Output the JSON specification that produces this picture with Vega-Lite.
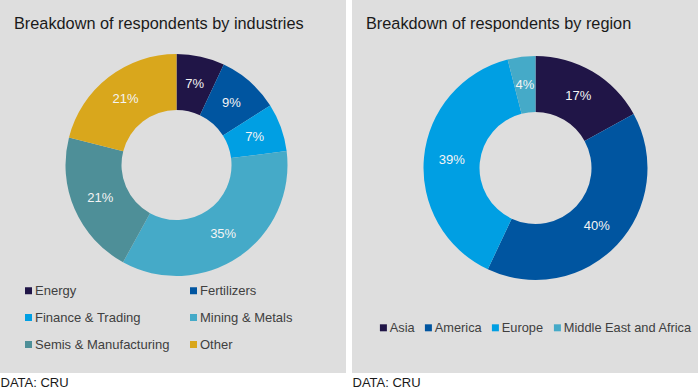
{
  "$schema": "https://vega.github.io/schema/vega-lite/v6.json",
  "padding": 0,
  "spacing": 6,
  "background": "white",
  "resolve": {"scale": {"color": "independent"}, "legend": {"color": "independent"}},
  "config": {
    "view": {"fill": "#dedede", "stroke": null},
    "font": "Liberation Sans",
    "title": {"fontSize": 16.3, "fontWeight": "normal", "color": "#1a1a1a", "anchor": "start", "frame": "group"},
    "legend": {"labelFontSize": 13, "labelColor": "#404040", "symbolType": "square", "symbolSize": 49, "symbolStrokeWidth": 0, "labelLimit": 300, "padding": 0, "labelOffset": 0}
  },
  "hconcat": [
    {
      "width": 346,
      "height": 373,
      "title": {"text": "Breakdown of respondents by industries", "offset": -32, "dx": 14},
      "data": {"values": [
        {"industry": "Energy", "share": 0.07},
        {"industry": "Fertilizers", "share": 0.09},
        {"industry": "Finance & Trading", "share": 0.07},
        {"industry": "Mining & Metals", "share": 0.35},
        {"industry": "Semis & Manufacturing", "share": 0.21},
        {"industry": "Other", "share": 0.21}
      ]},
      "transform": [{"window": [{"op": "row_number", "as": "k"}]}],
      "encoding": {
        "theta": {"field": "share", "type": "quantitative", "stack": true},
        "order": {"field": "k", "type": "quantitative"},
        "color": {
          "field": "industry", "type": "nominal",
          "sort": ["Energy", "Fertilizers", "Finance & Trading", "Mining & Metals", "Semis & Manufacturing", "Other"],
          "scale": {"domain": ["Energy", "Fertilizers", "Finance & Trading", "Mining & Metals", "Semis & Manufacturing", "Other"],
                    "range": ["#201547", "#0055a0", "#009fe3", "#45aac8", "#4e8f98", "#d9a71c"]},
          "legend": {"title": null, "orient": "none", "legendX": 22, "legendY": 284, "columns": 2, "columnPadding": 17, "rowPadding": 13,
                     "values": ["Energy", "Finance & Trading", "Semis & Manufacturing", "Fertilizers", "Mining & Metals", "Other"]}
        }
      },
      "layer": [
        {"mark": {"type": "arc", "innerRadius": 55, "outerRadius": 111, "xOffset": 3.5, "yOffset": -21.5}},
        {"mark": {"type": "text", "radius": 83, "xOffset": 3.5, "yOffset": -21.5, "fontSize": 13},
         "encoding": {"text": {"field": "share", "type": "quantitative", "format": ".0%"}, "color": {"value": "#f4f4f4"}}},
        {"mark": {"type": "rule", "opacity": 0},
         "encoding": {"x": {"datum": 0, "type": "quantitative",
           "axis": {"title": "DATA: CRU", "labels": false, "ticks": false, "domain": false, "grid": false,
                    "titleAnchor": "start", "titleFontSize": 13, "titleFontWeight": "normal", "titleColor": "#1a1a1a", "titlePadding": 3}}}}
      ]
    },
    {
      "width": 346,
      "height": 373,
      "title": {"text": "Breakdown of respondents by region", "offset": -32, "dx": 14},
      "data": {"values": [
        {"region": "Asia", "share": 0.17},
        {"region": "America", "share": 0.40},
        {"region": "Europe", "share": 0.39},
        {"region": "Middle East and Africa", "share": 0.04}
      ]},
      "transform": [{"window": [{"op": "row_number", "as": "k"}]}],
      "encoding": {
        "theta": {"field": "share", "type": "quantitative", "stack": true},
        "order": {"field": "k", "type": "quantitative"},
        "color": {
          "field": "region", "type": "nominal",
          "sort": ["Asia", "America", "Europe", "Middle East and Africa"],
          "scale": {"domain": ["Asia", "America", "Europe", "Middle East and Africa"],
                    "range": ["#201547", "#0055a0", "#009fe3", "#45aac8"]},
          "legend": {"title": null, "orient": "none", "direction": "horizontal", "legendX": 25, "legendY": 321, "columnPadding": 7, "labelFontSize": 12.8}
        }
      },
      "layer": [
        {"mark": {"type": "arc", "innerRadius": 56, "outerRadius": 112, "xOffset": 10.5, "yOffset": -18.5}},
        {"mark": {"type": "text", "radius": 84, "xOffset": 10.5, "yOffset": -18.5, "fontSize": 13},
         "encoding": {"text": {"field": "share", "type": "quantitative", "format": ".0%"}, "color": {"value": "#f4f4f4"}}},
        {"mark": {"type": "rule", "opacity": 0},
         "encoding": {"x": {"datum": 0, "type": "quantitative",
           "axis": {"title": "DATA: CRU", "labels": false, "ticks": false, "domain": false, "grid": false,
                    "titleAnchor": "start", "titleFontSize": 13, "titleFontWeight": "normal", "titleColor": "#1a1a1a", "titlePadding": 3}}}}
      ]
    }
  ]
}
